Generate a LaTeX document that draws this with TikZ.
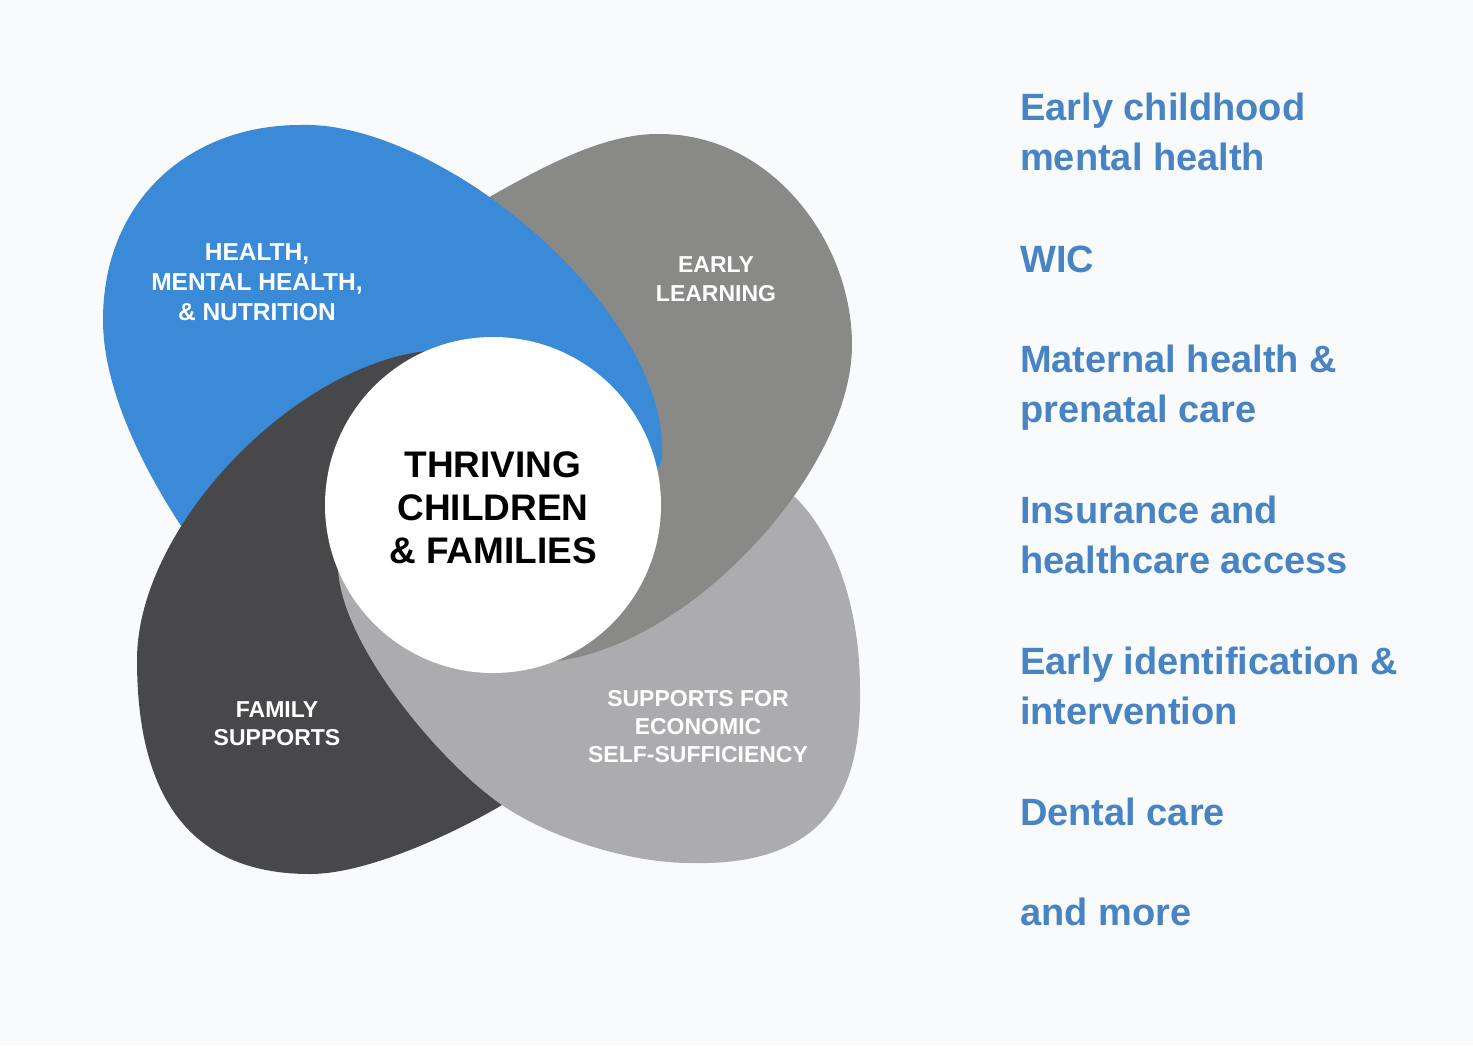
\documentclass[tikz,border=0pt]{standalone}
\usepackage{fontspec}
\setmainfont{Liberation Sans}
\definecolor{bgc}{RGB}{249,250,252}
\definecolor{petblue}{RGB}{58,138,215}
\definecolor{petel}{RGB}{137,137,136}
\definecolor{petlg}{RGB}{172,172,175}
\definecolor{petdark}{RGB}{72,72,74}
\definecolor{listblue}{RGB}{72,132,195}
\tikzset{
  listitem/.style={anchor=base west, inner sep=0pt, text=listblue, font=\fontsize{38}{50}\selectfont\bfseries, align=left},
  petlabel/.style={anchor=base, inner sep=0pt, text=white, align=center},
  centerlabel/.style={anchor=base, inner sep=0pt, text=black, align=center, font=\fontsize{37}{43}\selectfont\bfseries},
  bluepetal/.style={fill=petblue, insert path={(300,125) .. controls (440,120) and (668,310) .. (662,455) .. controls (662,540) and (229,598) .. (185,532) .. controls (157,490) and (103,400) .. (103,320) .. controls (103,200) and (190,125) .. (300,125) -- cycle}},
}
\begin{document}
\begin{tikzpicture}[x=1pt,y=-1pt]
\fill[bgc] (0,0) rectangle (1473,1045);
% blue petal
\path[bluepetal];
% dark petal
\fill[petdark] (137,660) .. controls (137,520) and (310,350) .. (445,350)
  .. controls (520,355) and (587,755) .. (502,805)
  .. controls (460,830) and (370,874) .. (310,874)
  .. controls (185,874) and (137,790) .. (137,660) -- cycle;
% light grey petal
\fill[petlg] (338,565) .. controls (338,640) and (438,761) .. (502,805)
  .. controls (550,838) and (630,863) .. (690,863)
  .. controls (810,866) and (862,810) .. (860,690)
  .. controls (860,600) and (831,533) .. (796,498)
  .. controls (740,450) and (338,470) .. (338,565) -- cycle;
% early learning petal
\fill[petel] (475,205) .. controls (536,171) and (600,133) .. (660,134)
  .. controls (770,134) and (852,240) .. (852,345)
  .. controls (852,470) and (690,650) .. (548,662)
  .. controls (480,668) and (470,330) .. (475,205) -- cycle;
% blue again where it lies over early learning
\begin{scope}
\clip (455,100) rectangle (900,480);
\path[bluepetal];
\end{scope}
% centre circle
\fill[white] (493,505) circle[radius=168];
\node[centerlabel] (centre) at (493,563) {THRIVING\\CHILDREN\\\& FAMILIES};
% petal labels
\node[petlabel, font=\fontsize{24.5}{30}\selectfont\bfseries] (health) at (257,320) {HEALTH,\\MENTAL HEALTH,\\\& NUTRITION};
\node[petlabel, font=\fontsize{23}{29}\selectfont\bfseries] (early) at (716,301) {EARLY\\LEARNING};
\node[petlabel, font=\fontsize{23}{27.5}\selectfont\bfseries] (family) at (277,745) {FAMILY\\SUPPORTS};
\node[petlabel, font=\fontsize{23}{28}\selectfont\bfseries] (econ) at (698,762) {SUPPORTS FOR\\ECONOMIC\\SELF-SUFFICIENCY};
% list
\node[listitem] (l1) at (1020,170) {Early childhood\\mental health};
\node[listitem] (l2) at (1020,272) {WIC};
\node[listitem] (l3) at (1020,422) {Maternal health \&\\prenatal care};
\node[listitem] (l4) at (1020,573) {Insurance and\\healthcare access};
\node[listitem] (l5) at (1020,724) {Early identification \&\\intervention};
\node[listitem] (l6) at (1020,825) {Dental care};
\node[listitem] (l7) at (1020,925) {and more};
\end{tikzpicture}
\end{document}
